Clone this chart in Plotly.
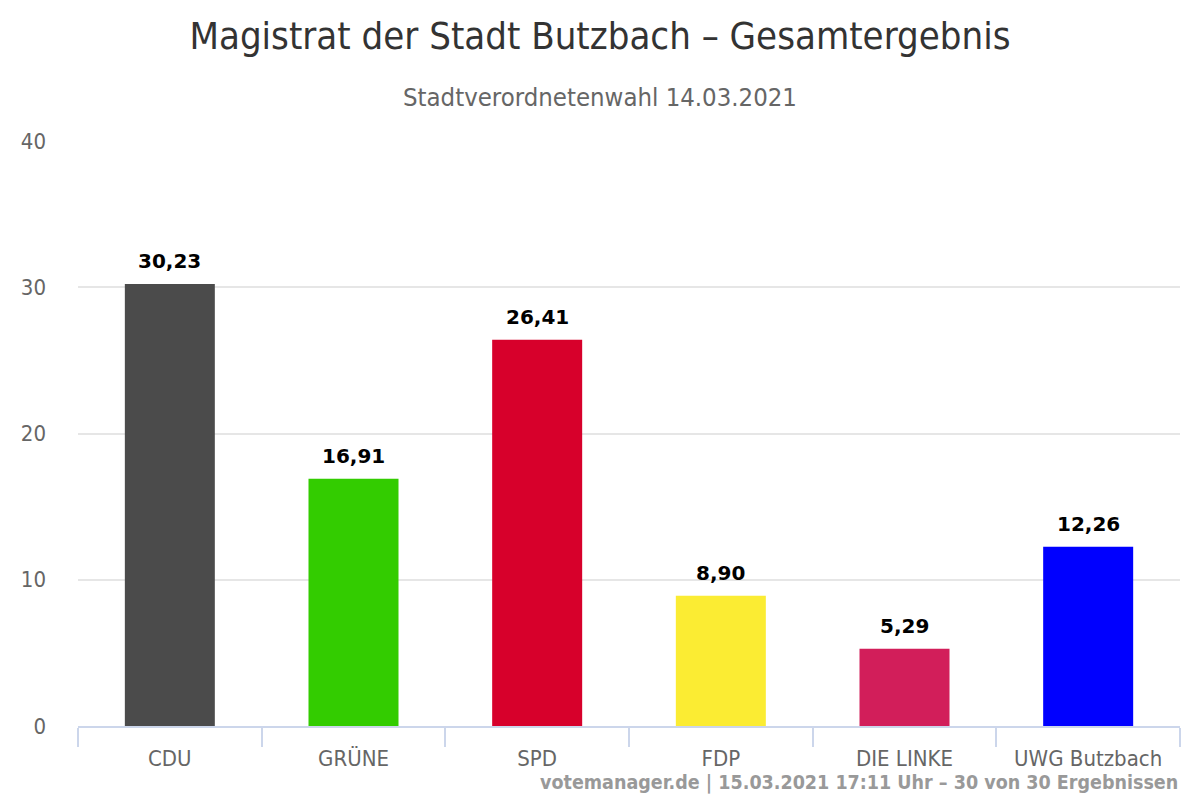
import plotly.graph_objects as go

parties = ["CDU", "GRÜNE", "SPD", "FDP", "DIE LINKE", "UWG Butzbach"]
values = [30.23, 16.91, 26.41, 8.90, 5.29, 12.26]
labels = ["30,23", "16,91", "26,41", "8,90", "5,29", "12,26"]
colors = ["#4b4b4b", "#33cc00", "#d7002b", "#fbec33", "#d21e5a", "#0000ff"]
y_ticks = [0, 10, 20, 30, 40]

fig = go.Figure(go.Bar(
    x=parties, y=values, marker=dict(color=colors, line=dict(width=0)),
    width=0.49, hoverinfo="x+y",
))

for p, v, t in zip(parties, values, labels):
    fig.add_annotation(x=p, y=v, text=t, showarrow=False, yanchor="bottom", yshift=9,
                       font=dict(family="DejaVu Sans", size=20, color="#000000", weight="bold"))

fig.update_layout(
    width=1200, height=800,
    separators=",.",
    paper_bgcolor="white", plot_bgcolor="white",
    margin=dict(l=70, r=28, t=133, b=82),
    title=dict(text="Magistrat der Stadt Butzbach – Gesamtergebnis",
               x=0.4933, xanchor="center", y=0.966, yanchor="middle",
               font=dict(family="DejaVu Sans Condensed", size=38, color="#333333")),
    showlegend=False,
)
fig.add_annotation(text="Stadtverordnetenwahl 14.03.2021", xref="paper", yref="paper",
                   x=0.4737, xanchor="center", y=1, yanchor="middle", yshift=44,
                   showarrow=False,
                   font=dict(family="DejaVu Sans Condensed", size=25.5, color="#666666"))
fig.add_annotation(text="votemanager.de | 15.03.2021 17:11 Uhr – 30 von 30 Ergebnissen",
                   xref="paper", yref="paper", x=1, xanchor="right", xshift=0,
                   y=0, yanchor="middle", yshift=-56, showarrow=False,
                   font=dict(family="DejaVu Sans Condensed", size=19.5, color="#999999", weight="bold"))

fig.update_yaxes(range=[0, 40], tickvals=y_ticks, showgrid=True, gridcolor="#e6e6e6",
                 gridwidth=2, zeroline=False, showline=False,
                 tickfont=dict(family="DejaVu Sans Condensed", size=22, color="#666666"),
                 ticklabelstandoff=31)
fig.update_xaxes(showline=True, linecolor="#ccd6eb", linewidth=2,
                 ticks="outside", tickson="boundaries", ticklen=19, tickcolor="#ccd6eb",
                 tickwidth=2, ticklabelstandoff=12,
                 tickfont=dict(family="DejaVu Sans Condensed", size=22, color="#666666"))

fig.write_html("out.html")
